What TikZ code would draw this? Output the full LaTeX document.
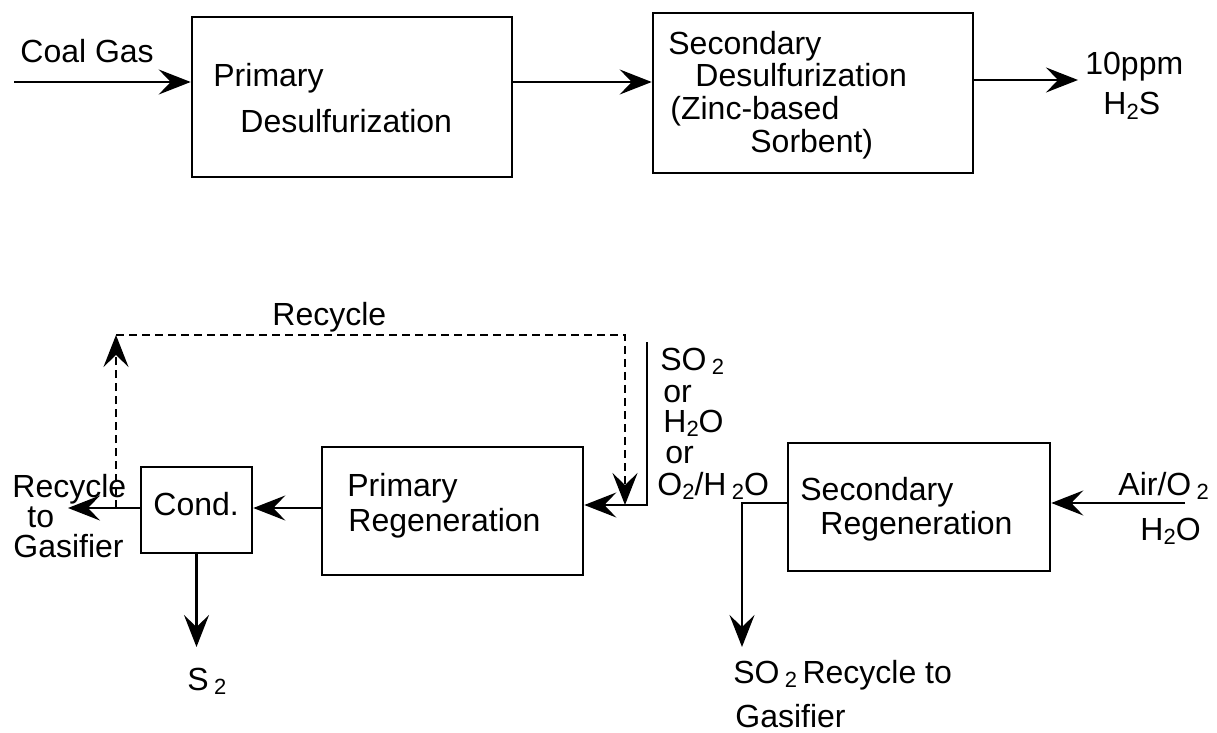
\documentclass[tikz,border=0pt]{standalone}
\usepackage{fontspec}
\setmainfont{Liberation Sans}
\usetikzlibrary{arrows.meta}
\newcommand{\subtwo}{\raisebox{-0.25ex}{\fontsize{11}{11}\selectfont 2}}
\tikzset{
	blk/.style={draw, line width=1.3pt, inner sep=0pt},
	lbl/.style={inner sep=0pt, anchor=base west, font=\fontsize{16}{19}\selectfont},
	flow/.style={line width=1.1pt, -{Stealth[length=16pt, width=12.5pt, inset=6pt]}},
	recyc/.style={flow, dash pattern=on 4pt off 2.5pt}
}

\begin{document}
\begin{tikzpicture}[x=0.5pt, y=-0.5pt]
			%%%%% START %%%%%
			\useasboundingbox (0,0) rectangle (1217,733);
			
			% desulfurization train
			\node[blk, minimum width=160pt, minimum height=80pt] (pdes) at (352, 97) {};
			\node[blk, minimum width=160pt, minimum height=80pt] (sdes) at (813, 93) {};
			
			\node[lbl] (t-coal) at (20, 63) {Coal Gas};
			\node[lbl] (t-pd1) at (213, 87) {Primary};
			\node[lbl] (t-pd2) at (240, 133) {Desulfurization};
			\node[lbl] (t-sd1) at (668, 55) {Secondary};
			\node[lbl] (t-sd2) at (695, 87) {Desulfurization};
			\node[lbl] (t-sd3) at (670, 120) {(Zinc-based};
			\node[lbl] (t-sd4) at (750, 153) {Sorbent)};
			\node[lbl] (t-ppm) at (1085, 75) {10ppm};
			\node[lbl] (t-h2s) at (1103, 115) {H\subtwo S};
			
			\coordinate (gasin) at (14, 82);
			\coordinate (gasout) at (1078, 80);
			\draw[flow] (gasin) -- (gasin -| pdes.west);
			\draw[flow] (gasin -| pdes.east) -- (gasin -| sdes.west);
			\draw[flow] (gasout -| sdes.east) -- (gasout);
			
			% regeneration train
			\node[blk, minimum width=55.5pt, minimum height=43pt] (cond) at (196.5, 510) {};
			\node[blk, minimum width=130.5pt, minimum height=64pt] (preg) at (452.5, 511) {};
			\node[blk, minimum width=131pt, minimum height=64pt] (sreg) at (919, 507) {};
			
			\node[lbl] (t-cond) at (153, 515) {Cond.};
			\node[lbl] (t-pr1) at (347, 496) {Primary};
			\node[lbl] (t-pr2) at (348, 531) {Regeneration};
			\node[lbl] (t-sr1) at (800, 500) {Secondary};
			\node[lbl] (t-sr2) at (820, 534) {Regeneration};
			
			\node[lbl] (t-rc) at (272, 325) {Recycle};
			\node[lbl] (t-rg1) at (12, 497) {Recycle};
			\node[lbl] (t-rg2) at (27, 527) {to};
			\node[lbl] (t-rg3) at (13, 557) {Gasifier};
			\node[lbl] (t-s2) at (187, 690) {S\,\subtwo};
			
			\node[lbl] (t-f1) at (660, 370) {SO\,\subtwo};
			\node[lbl] (t-f2) at (663, 402) {or};
			\node[lbl] (t-f3) at (663, 432) {H\subtwo O};
			\node[lbl] (t-f4) at (665, 463) {or};
			\node[lbl] (t-f5) at (657, 495) {O\subtwo/H\,\subtwo O};
			
			\node[lbl] (t-air) at (1118, 495) {Air/O\,\subtwo};
			\node[lbl] (t-h2o) at (1140, 540) {H\subtwo O};
			\node[lbl] (t-so2a) at (733, 683) {SO\,\subtwo\,Recycle to};
			\node[lbl] (t-so2b) at (735, 727) {Gasifier};
			
			% connectors
			\coordinate (regline) at (0, 508);
			\coordinate (togas) at (68, 508);
			\coordinate (s2out) at (cond.south |- 0, 647);
			\draw[flow] (regline -| preg.west) -- (regline -| cond.east);
			\draw[flow] (regline -| cond.west) -- (togas);
			\draw[flow] (cond.south) -- (s2out);
			
			\coordinate (rcup) at (116, 508);
			\coordinate (rctop) at (116, 335);
			\coordinate (rcend) at (625, 505);
			\draw[recyc] (rcup) -- (rctop);
			\draw[recyc] (rctop) -- (rcend |- rctop) -- (rcend);
			
			\coordinate (feedtop) at (647, 342);
			\coordinate (feedline) at (0, 505);
			\draw[flow] (feedtop) -- (feedtop |- feedline) -- (feedline -| preg.east);
			
			\coordinate (airin) at (1185, 503);
			\coordinate (so2turn) at (742, 503);
			\coordinate (so2out) at (742, 647);
			\draw[flow] (airin) -- (airin -| sreg.east);
			\draw[flow] (so2turn -| sreg.west) -- (so2turn) -- (so2out);
			
			%%%%% END %%%%%
		\end{tikzpicture}
\end{document}
